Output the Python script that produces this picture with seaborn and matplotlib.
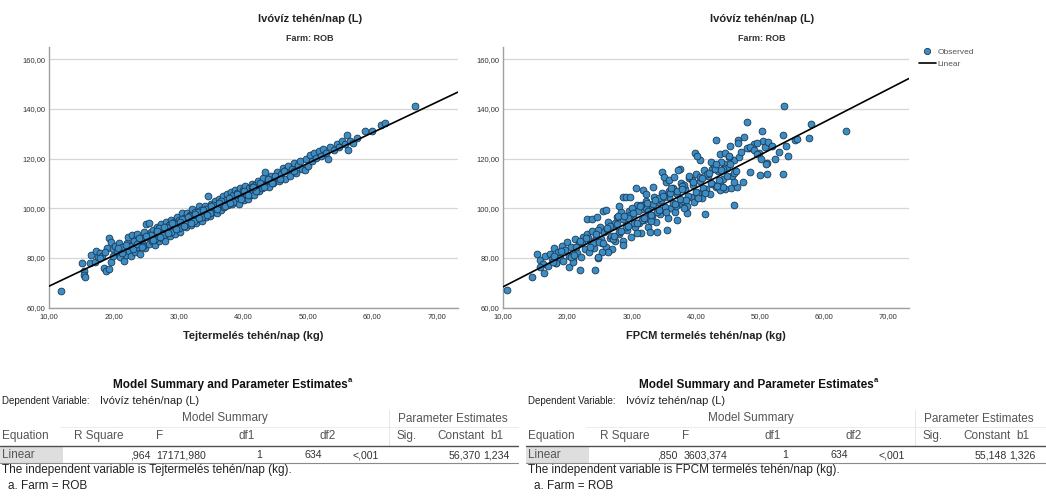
import matplotlib
matplotlib.use("Agg")
import matplotlib.pyplot as plt
import seaborn as sns
import pandas as pd
from matplotlib.lines import Line2D
from matplotlib.patches import Rectangle

# ---------------- data ----------------
milk_kg = [
    11.8, 15.0, 15.3, 15.4, 15.5, 16.3, 16.5, 17.0, 17.3, 17.6,
    17.9, 18.2, 18.5, 18.8, 19.2, 19.5, 18.9, 19.3, 19.6, 19.9,
    20.2, 20.5, 20.8, 21.0, 21.3, 21.6, 21.8, 22.0, 22.2, 22.4,
    22.6, 22.8, 23.0, 23.2, 23.4, 23.6, 23.8, 24.0, 24.2, 24.4,
    24.6, 24.8, 25.0, 25.5, 25.2, 25.4, 25.7, 25.9, 26.1, 26.3,
    26.5, 26.7, 26.9, 27.1, 27.3, 27.5, 27.7, 27.9, 28.1, 28.3,
    28.5, 28.7, 28.9, 29.1, 29.3, 29.5, 29.7, 29.9, 30.1, 30.3,
    30.5, 30.7, 30.9, 31.1, 31.3, 31.5, 31.7, 31.9, 32.1, 32.3,
    32.5, 32.7, 32.9, 33.1, 33.3, 33.5, 33.7, 33.9, 34.1, 34.3,
    34.5, 34.7, 34.9, 35.1, 35.3, 35.5, 35.7, 35.9, 36.1, 36.3,
    36.5, 36.7, 36.9, 37.1, 37.3, 37.5, 37.7, 37.9, 38.1, 38.3,
    38.5, 38.7, 38.9, 39.1, 39.3, 39.5, 39.7, 39.9, 40.1, 40.3,
    40.5, 40.7, 40.9, 41.1, 41.3, 41.5, 41.7, 41.9, 42.1, 42.3,
    42.5, 42.7, 42.9, 43.1, 43.4, 43.6, 43.8, 44.0, 44.3, 44.6,
    44.9, 45.2, 45.5, 45.8, 46.1, 46.4, 46.7, 47.0, 47.3, 47.6,
    47.9, 48.2, 48.5, 48.8, 49.1, 49.5, 49.8, 50.1, 50.4, 50.7,
    51.0, 51.3, 51.7, 52.0, 52.4, 52.8, 53.1, 53.5, 54.0, 54.5,
    54.9, 55.3, 55.7, 56.0, 56.2, 56.5, 57.0, 57.6, 58.8, 60.0,
    61.3, 61.9, 66.6,
    22.5, 23.1, 23.9, 24.5, 25.1, 25.8, 26.4, 27.0, 27.6, 28.2,
    28.8, 29.4, 30.0, 30.6, 31.2, 31.8, 32.4, 33.0, 33.6, 34.2,
    34.8, 35.4, 36.0, 36.6, 37.2, 37.8, 38.4, 39.0, 39.6, 40.2,
    40.8, 41.4, 42.0, 42.6, 43.2, 43.9, 44.5, 45.0, 45.7, 46.3,
    17.8, 18.6, 19.8, 20.6, 21.2, 21.9, 22.9, 23.5, 24.3, 24.9,
    26.0, 26.6, 27.2, 27.8, 28.4, 29.0, 29.6, 30.2, 30.8, 31.4,
    32.0, 32.6, 33.2, 33.8, 34.4, 35.0, 36.2, 38.0, 41.6, 47.8,
]
water_milk_l = [
    66.8, 77.8, 74.6, 73.3, 72.3, 77.8, 81.2, 78.2, 83.0, 80.4,
    82.2, 81.0, 76.0, 74.9, 75.5, 78.3, 84.2, 88.0, 86.3, 83.6,
    84.8, 82.4, 86.0, 80.2, 84.3, 78.6, 81.3, 86.2, 88.4, 83.0,
    80.8, 89.2, 85.6, 82.3, 87.6, 89.8, 84.3, 81.8, 88.2, 86.0,
    90.4, 83.9, 93.8, 93.9, 89.0, 85.6, 90.6, 86.9, 91.4, 85.2,
    89.9, 92.4, 87.0, 90.3, 93.6, 88.2, 91.8, 86.9, 94.6, 90.0,
    93.2, 88.9, 95.2, 91.4, 94.3, 89.8, 96.4, 92.2, 95.4, 90.6,
    97.9, 93.4, 96.2, 92.3, 98.2, 94.6, 97.1, 93.4, 99.6, 95.7,
    98.6, 93.9, 97.6, 100.9, 95.7, 99.4, 94.8, 98.3, 101.0, 96.6,
    104.8, 99.6, 96.8, 101.9, 98.4, 100.6, 103.1, 97.9, 101.2, 103.6,
    99.4, 102.4, 104.9, 100.6, 103.4, 105.6, 101.3, 104.2, 106.4, 101.9,
    105.2, 107.4, 103.1, 106.0, 101.8, 108.2, 104.2, 107.3, 103.2, 108.9,
    105.9, 103.9, 108.3, 105.3, 109.6, 106.9, 105.2, 109.3, 107.4, 111.0,
    106.8, 110.2, 108.1, 112.0, 114.6, 109.4, 111.3, 108.6, 112.8, 110.2,
    112.4, 114.4, 110.8, 113.9, 116.3, 111.6, 115.2, 117.0, 112.9, 116.0,
    118.3, 114.2, 117.4, 119.0, 115.8, 115.3, 120.0, 117.2, 121.4, 119.2,
    122.3, 120.4, 123.0, 121.2, 124.0, 122.3, 119.8, 124.6, 123.6, 125.8,
    124.6, 127.2, 125.8, 129.3, 123.6, 127.1, 126.4, 128.2, 130.9, 131.0,
    133.6, 134.4, 141.2,
    85.0, 86.8, 87.9, 84.8, 88.6, 89.3, 87.6, 91.9, 89.4, 92.4,
    90.6, 93.8, 92.0, 95.6, 93.6, 96.8, 95.0, 98.4, 96.6, 99.8,
    98.0, 101.4, 99.6, 102.9, 101.0, 104.3, 102.6, 105.7, 103.8, 107.1,
    105.4, 108.6, 107.0, 110.0, 108.5, 111.7, 110.0, 113.0, 111.6, 114.8,
    79.8, 82.6, 81.0, 84.0, 82.0, 85.3, 83.5, 85.8, 84.6, 88.8,
    87.4, 90.8, 88.6, 92.5, 90.2, 93.9, 91.6, 94.6, 93.0, 96.6,
    94.2, 97.8, 96.0, 99.4, 97.4, 100.8, 102.3, 102.0, 108.4, 115.0,
]

fpcm_kg = [
    10.6, 14.5, 15.3, 16.4, 20.2, 21.9, 24.3, 23.0, 23.8, 25.5,
    30.7, 33.9, 34.8, 37.5, 39.9, 40.7, 41.4, 43.1, 43.8, 45.9,
    45.5, 46.5, 47.4, 47.5, 47.9, 48.3, 48.5, 49.9, 50.0, 50.3,
    50.4, 50.8, 51.1, 51.1, 51.3, 52.4, 53.6, 53.6, 53.7, 54.3,
    55.5, 55.8, 57.6, 57.9, 63.4, 54.0, 49.0, 46.0, 44.5, 42.5,
    15.8, 16.2, 16.6, 17.0, 17.3, 17.6, 17.9, 18.2, 18.5, 18.8,
    19.1, 19.4, 19.7, 20.0, 20.3, 20.6, 20.9, 21.2, 21.5, 21.8,
    22.1, 22.4, 22.7, 23.0, 23.3, 23.6, 23.9, 24.2, 24.5, 24.8,
    25.1, 25.4, 25.7, 26.0, 26.3, 26.6, 26.9, 27.2, 27.5, 27.8,
    28.1, 28.4, 28.7, 29.0, 29.3, 29.6, 29.9, 30.2, 30.5, 30.8,
    31.1, 31.4, 31.7, 32.0, 32.3, 32.6, 32.9, 33.2, 33.5, 33.8,
    34.1, 34.4, 34.7, 35.0, 35.3, 35.6, 35.9, 36.2, 36.5, 36.8,
    37.1, 37.4, 37.7, 38.0, 38.3, 38.6, 38.9, 39.2, 39.5, 39.8,
    40.1, 40.4, 40.7, 41.0, 41.3, 41.6, 41.9, 42.2, 42.5, 42.8,
    43.1, 43.4, 43.7, 44.0, 44.3, 44.6, 44.9, 45.2, 45.6, 46.0,
    22.3, 23.2, 24.0, 24.7, 25.3, 26.1, 26.8, 27.4, 28.0, 28.6,
    29.2, 29.8, 30.4, 31.0, 31.6, 32.2, 32.8, 33.4, 34.0, 34.6,
    35.2, 35.8, 36.4, 37.0, 37.6, 38.2, 38.8, 39.4, 40.0, 40.6,
    41.2, 41.8, 42.4, 43.0, 43.6, 44.2, 44.8, 45.4, 46.2, 46.8,
    24.6, 26.0, 28.1, 28.7, 29.2, 29.7, 31.8, 32.3, 33.4, 35.1,
    35.9, 36.6, 37.3, 40.2, 42.4, 43.1, 44.6, 45.1, 45.3, 46.6,
    48.0, 48.5, 49.1, 49.6, 50.2, 51.0, 30.8, 28.7, 26.4, 25.4,
    24.7, 20.9, 18.3, 17.8, 15.7, 38.6, 38.1, 37.0, 35.5, 32.9,
    43.8, 44.3, 46.4, 45.9, 36.0, 34.2, 31.5, 30.0, 27.9, 39.0,
    20.5, 21.4, 22.9, 24.9, 26.6, 29.5, 32.5, 35.0, 37.9, 41.0,
    42.0, 44.0, 47.0, 49.5, 51.8, 52.9, 33.0, 36.9, 40.4, 27.1,
    18.0, 19.0, 21.0, 22.0, 23.5, 24.4, 25.6, 26.2, 27.3, 27.7,
    28.3, 28.9, 29.4, 30.3, 30.9, 31.3, 31.9, 32.4, 33.1, 33.7,
    34.3, 34.9, 35.4, 36.1, 36.7, 37.8, 38.5, 39.6, 41.5, 43.3,
]
water_fpcm_l = [
    67.1, 72.3, 81.5, 73.8, 76.4, 75.1, 75.0, 95.6, 95.6, 99.0,
    108.0, 90.3, 114.7, 115.8, 122.3, 119.4, 97.6, 127.4, 121.7, 101.4,
    108.0, 127.4, 110.7, 128.8, 134.6, 124.1, 114.7, 122.4, 113.4, 131.1,
    127.1, 124.8, 118.1, 113.7, 126.5, 119.8, 129.5, 113.9, 141.2, 120.9,
    127.5, 127.7, 128.3, 133.8, 131.2, 125.0, 126.0, 119.5, 117.8, 116.0,
    79.0, 77.5, 80.8, 76.6, 81.5, 79.6, 84.2, 77.9, 82.4, 80.0,
    85.0, 78.6, 83.2, 86.3, 80.8, 84.6, 79.4, 87.5, 82.0, 85.9,
    80.3, 88.4, 83.6, 89.6, 82.4, 86.7, 90.8, 84.0, 88.9, 79.8,
    92.6, 86.2, 90.4, 84.4, 94.3, 88.1, 83.6, 92.8, 87.0, 96.4,
    89.7, 98.6, 86.9, 95.4, 91.2, 99.1, 88.4, 97.0, 92.6, 101.5,
    94.2, 90.2, 99.6, 95.3, 103.0, 92.4, 100.6, 96.8, 104.6, 94.6,
    102.4, 97.7, 106.2, 99.3, 110.6, 96.0, 104.4, 100.2, 108.0, 98.5,
    105.9, 101.8, 110.0, 103.0, 107.6, 100.8, 112.2, 104.6, 109.2, 102.5,
    113.6, 106.2, 111.0, 104.2, 115.2, 107.6, 112.8, 105.8, 109.6, 117.4,
    108.4, 114.8, 110.6, 118.6, 111.9, 107.8, 116.4, 120.8, 112.9, 114.0,
    86.4, 87.9, 86.0, 91.3, 87.8, 91.6, 89.0, 94.2, 90.6, 95.8,
    92.6, 97.1, 94.0, 99.0, 95.4, 100.1, 97.2, 101.9, 98.6, 103.4,
    100.4, 106.8, 102.0, 107.0, 103.6, 109.2, 105.0, 111.4, 106.4, 112.6,
    108.0, 113.9, 110.2, 115.9, 111.4, 116.0, 113.0, 118.0, 115.0, 120.6,
    96.6, 99.3, 101.0, 104.7, 104.7, 104.7, 107.4, 105.6, 108.7, 112.7,
    111.4, 112.7, 115.4, 120.9, 118.7, 118.0, 122.1, 120.9, 124.9, 126.1,
    124.1, 124.8, 123.4, 121.8, 119.8, 117.9, 89.9, 85.2, 82.5, 82.3,
    80.5, 78.5, 77.8, 78.5, 76.5, 98.0, 100.0, 95.3, 91.3, 90.6,
    107.4, 108.7, 108.7, 110.7, 106.0, 104.0, 101.2, 100.2, 96.8, 113.0,
    80.5, 84.6, 88.2, 86.6, 93.0, 96.0, 99.0, 104.6, 108.8, 112.2,
    114.0, 115.2, 122.6, 126.4, 125.0, 122.6, 95.0, 101.0, 104.0, 87.8,
    81.0, 82.8, 81.2, 87.0, 84.6, 89.6, 86.0, 92.0, 89.0, 93.8,
    91.0, 96.8, 92.8, 98.0, 94.0, 100.8, 96.0, 102.0, 97.4, 103.2,
    99.2, 104.8, 98.6, 108.2, 101.6, 107.8, 103.2, 110.4, 106.0, 109.0,
]

# regression estimates (from the tables)
const_milk, b1_milk = 56.370, 1.234
const_fpcm, b1_fpcm = 55.148, 1.326

x_ticks = [10, 20, 30, 40, 50, 60, 70]
y_ticks = [60, 80, 100, 120, 140, 160]

chart_title = "Ivóvíz tehén/nap (L)"
chart_subtitle = "Farm: ROB"
x_label_milk = "Tejtermelés tehén/nap (kg)"
x_label_fpcm = "FPCM termelés tehén/nap (kg)"

table_headers = ["R Square", "F", "df1", "df2", "Sig.", "Constant", "b1"]
table_milk = [",964", "17171,980", "1", "634", "<,001", "56,370", "1,234"]
table_fpcm = [",850", "3603,374", "1", "634", "<,001", "55,148", "1,326"]

# ---------------- figure ----------------
sns.set_style("white")
plt.rcParams['font.family'] = ['Liberation Sans', 'DejaVu Sans']

W, H = 1046, 496
fig = plt.figure(figsize=(W / 100, H / 100), dpi=100)


def fx(px):
    return px / W


def fy(py):
    return 1 - py / H


AX_TOP, AX_BOT = 46.7, 307.7
PT_FACE, PT_EDGE = "#3b8dc3", "#1b3856"


def fmt(v):
    return f"{v:.2f}".replace(".", ",")


def draw_panel(left_px, right_px, xs, ys, const, slope, xlabel):
    ax = fig.add_axes([fx(left_px), fy(AX_BOT), (right_px - left_px) / W,
                       (AX_BOT - AX_TOP) / H])
    df = pd.DataFrame({"x": xs, "y": ys})
    sns.scatterplot(data=df, x="x", y="y", ax=ax, s=24, color=PT_FACE,
                    edgecolor=PT_EDGE, linewidth=0.6, zorder=3, legend=False)
    ax.axline((0, const), slope=slope, color="black", lw=1.2, zorder=4)
    ax.set_xlim(10, 73.2)
    ax.set_ylim(60, 165)
    ax.set_xticks(x_ticks)
    ax.set_xticklabels([fmt(v) for v in x_ticks])
    ax.set_yticks(y_ticks)
    ax.set_yticklabels([fmt(v) for v in y_ticks])
    ax.yaxis.grid(True, color="#d6d6d6", lw=0.9)
    ax.xaxis.grid(False)
    ax.set_axisbelow(True)
    for s in ("top", "right"):
        ax.spines[s].set_visible(False)
    for s in ("left", "bottom"):
        ax.spines[s].set_color("#a0a0a0")
        ax.spines[s].set_linewidth(1.0)
    ax.tick_params(axis="both", length=0, labelsize=5.5, colors="#333333")
    ax.tick_params(axis="y", pad=2.5)
    ax.tick_params(axis="x", pad=4)
    ax.set_xlabel("")
    ax.set_ylabel("")
    cx = (left_px + right_px) / 2
    fig.text(fx(cx), fy(336), xlabel, ha="center", va="center",
             fontsize=8, fontweight="bold", color="#222222")
    return ax


ax1 = draw_panel(49.3, 457.7, milk_kg, water_milk_l, const_milk, b1_milk,
                 x_label_milk)
ax2 = draw_panel(503.1, 909.0, fpcm_kg, water_fpcm_l, const_fpcm, b1_fpcm,
                 x_label_fpcm)

for cx in (310, 761.7):
    fig.text(fx(cx), fy(19.5), chart_title, ha="center", va="center",
             fontsize=8, fontweight="bold", color="#222222")
    fig.text(fx(cx), fy(38.3), chart_subtitle, ha="center", va="center",
             fontsize=6.5, fontweight="bold", color="#333333")

handles = [
    Line2D([], [], marker="o", ls="", mfc=PT_FACE, mec=PT_EDGE, mew=0.6, ms=4.5),
    Line2D([], [], color="black", lw=1.2),
]
fig.legend(handles=handles, labels=["Observed", "Linear"], loc="upper left",
           bbox_to_anchor=(fx(919), fy(48.5)), frameon=False, fontsize=6,
           handlelength=2.0, handletextpad=0.25, labelspacing=0.5,
           borderpad=0, borderaxespad=0, labelcolor="#555555")

# ---------------- tables ----------------
HDR_C = "#555555"
TXT_C = "#333333"
header_cx = [99, 160, 247, 328, 407, 461, 497]
TFS = 8.5   # header / footnote text
VFS = 7.6   # numeric cells


def draw_table(ox, width, values, value_right, indep_text):
    fig.text(fx(ox + 230), fy(385), "Model Summary and Parameter Estimates",
             ha="center", va="center", fontsize=8.5, fontweight="bold",
             color="#111111")
    fig.text(fx(ox + 348), fy(381), "a", ha="left", va="center",
             fontsize=5.5, fontweight="bold", color="#111111")
    fig.text(fx(ox + 2), fy(401), "Dependent Variable:", ha="left",
             va="center", fontsize=7, color="#222222")
    fig.text(fx(ox + 100), fy(401), "Ivóvíz tehén/nap (L)", ha="left",
             va="center", fontsize=8, color="#222222")
    fig.text(fx(ox + 225), fy(418.5), "Model Summary", ha="center",
             va="center", fontsize=TFS, color=HDR_C)
    fig.text(fx(ox + 453), fy(418.5), "Parameter Estimates", ha="center",
             va="center", fontsize=TFS, color=HDR_C)
    fig.text(fx(ox + 2), fy(436), "Equation", ha="left", va="center",
             fontsize=TFS, color=HDR_C)
    for cx, h in zip(header_cx, table_headers):
        fig.text(fx(ox + cx), fy(436), h, ha="center", va="center",
                 fontsize=TFS, color=HDR_C)
    # faint header lines
    fig.add_artist(Line2D([fx(ox + 60), fx(ox + width)], [fy(426.5), fy(426.5)],
                          color="#ececec", lw=0.7))
    fig.add_artist(Line2D([fx(ox + 389), fx(ox + 389)], [fy(410), fy(446)],
                          color="#e6e6e6", lw=0.7))
    # data row
    fig.add_artist(Rectangle((fx(ox), fy(462.5)), 63 / W, 16.5 / H,
                             facecolor="#dedede", edgecolor="none"))
    fig.add_artist(Line2D([fx(ox), fx(ox + width)], [fy(446), fy(446)],
                          color="#4f4f4f", lw=1.0))
    fig.add_artist(Line2D([fx(ox), fx(ox + width)], [fy(462.5), fy(462.5)],
                          color="#8a8a8a", lw=0.8))
    fig.text(fx(ox + 2), fy(455), "Linear", ha="left", va="center",
             fontsize=TFS, color="#555555")
    for rx, v in zip(value_right, values):
        fig.text(fx(ox + rx), fy(455), v, ha="right", va="center",
                 fontsize=VFS, color=TXT_C)
    fig.text(fx(ox + 2), fy(470.5), indep_text, ha="left", va="center",
             fontsize=TFS, color="#222222")
    fig.text(fx(ox + 8), fy(486), "a. Farm = ROB", ha="left", va="center",
             fontsize=TFS, color="#222222")


draw_table(0, 518, table_milk, [151, 206, 262, 322, 379, 481, 510],
           "The independent variable is Tejtermelés tehén/nap (kg).")
draw_table(526, 520, table_fpcm, [151, 201, 262, 322, 379, 481, 510],
           "The independent variable is FPCM termelés tehén/nap (kg).")

fig.savefig("out.png", dpi=100, facecolor="white")
